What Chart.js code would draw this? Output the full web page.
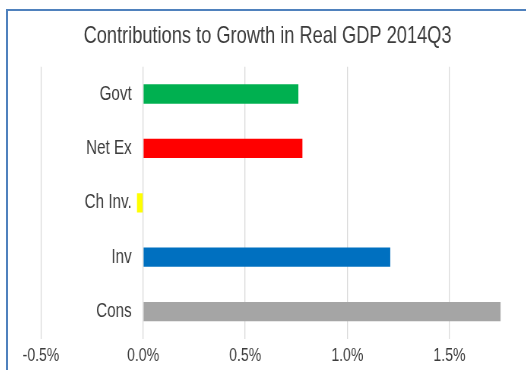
<!DOCTYPE html>
<html>
<head>
<meta charset="utf-8">
<script src="https://cdn.jsdelivr.net/npm/chart.js@4.4.1/dist/chart.umd.min.js"></script>
<style>
  html, body { margin: 0; padding: 0; background: #ffffff; overflow: hidden; width: 526px; height: 370px; }
  #frame { position: absolute; left: 6px; top: 9px; width: 560px; height: 400px;
           border-left: 2px solid #4f81bd; border-top: 2px solid #4f81bd; box-sizing: border-box; }
  #c { position: absolute; left: 8px; top: 11px; transform: scaleX(0.76); transform-origin: 0 0; }
</style>
</head>
<body>
<div id="frame"></div>
<canvas id="c" width="683" height="364" style="width:683px;height:364px;"></canvas>
<script>
// ---- data ----
const categories = ['Govt', 'Net Ex', 'Ch Inv.', 'Inv', 'Cons'];
const contributions = [0.76, 0.78, -0.03, 1.21, 1.75];   // percentage points
const xTickValues = [-0.5, 0.0, 0.5, 1.0, 1.5];
const titleText = 'Contributions to Growth in Real GDP 2014Q3';

// ---- styles ----
const barColors = ['#00b050', '#ff0000', '#ffff00', '#0070c0', '#a5a5a5'];
const textColor = '#3c3c3c';
const fontFamily = '"Liberation Sans", Arial, sans-serif';

new Chart(document.getElementById('c'), {
  type: 'bar',
  data: {
    labels: categories,
    datasets: [{
      data: contributions,
      backgroundColor: barColors,
      borderWidth: 0,
      barPercentage: 0.355,
      categoryPercentage: 1.0
    }]
  },
  options: {
    indexAxis: 'y',
    responsive: false,
    animation: false,
    devicePixelRatio: 1,
    layout: { padding: { left: 0, right: 0, top: 0, bottom: 1 } },
    plugins: {
      legend: { display: false },
      tooltip: { enabled: false },
      title: {
        display: true,
        text: titleText,
        color: '#3c3c3c',
        font: { family: fontFamily, size: 24, weight: 'normal' },
        padding: { top: 11, bottom: 16 }
      }
    },
    scales: {
      x: {
        type: 'linear',
        min: -0.5,
        max: 1.88,
        afterBuildTicks: (scale) => { scale.ticks = xTickValues.map(v => ({ value: v })); },
        afterFit: (scale) => { scale.paddingLeft = 43.4; scale.paddingRight = 0; },
        grid: { color: '#d9d9d9', lineWidth: 1.3, drawTicks: false },
        border: { display: false },
        ticks: {
          color: textColor,
          padding: 6.5,
          font: { family: fontFamily, size: 18.5, weight: 'normal' },
          maxRotation: 0,
          callback: (v) => Number(v).toFixed(1) + '%'
        }
      },
      y: {
        type: 'category',
        position: { x: -0.056 },
        grid: { display: false, drawTicks: false },
        border: { display: false },
        ticks: {
          color: textColor,
          padding: 0,
          font: { family: fontFamily, size: 20, weight: 'normal' }
        }
      }
    }
  }
});
</script>
</body>
</html>
